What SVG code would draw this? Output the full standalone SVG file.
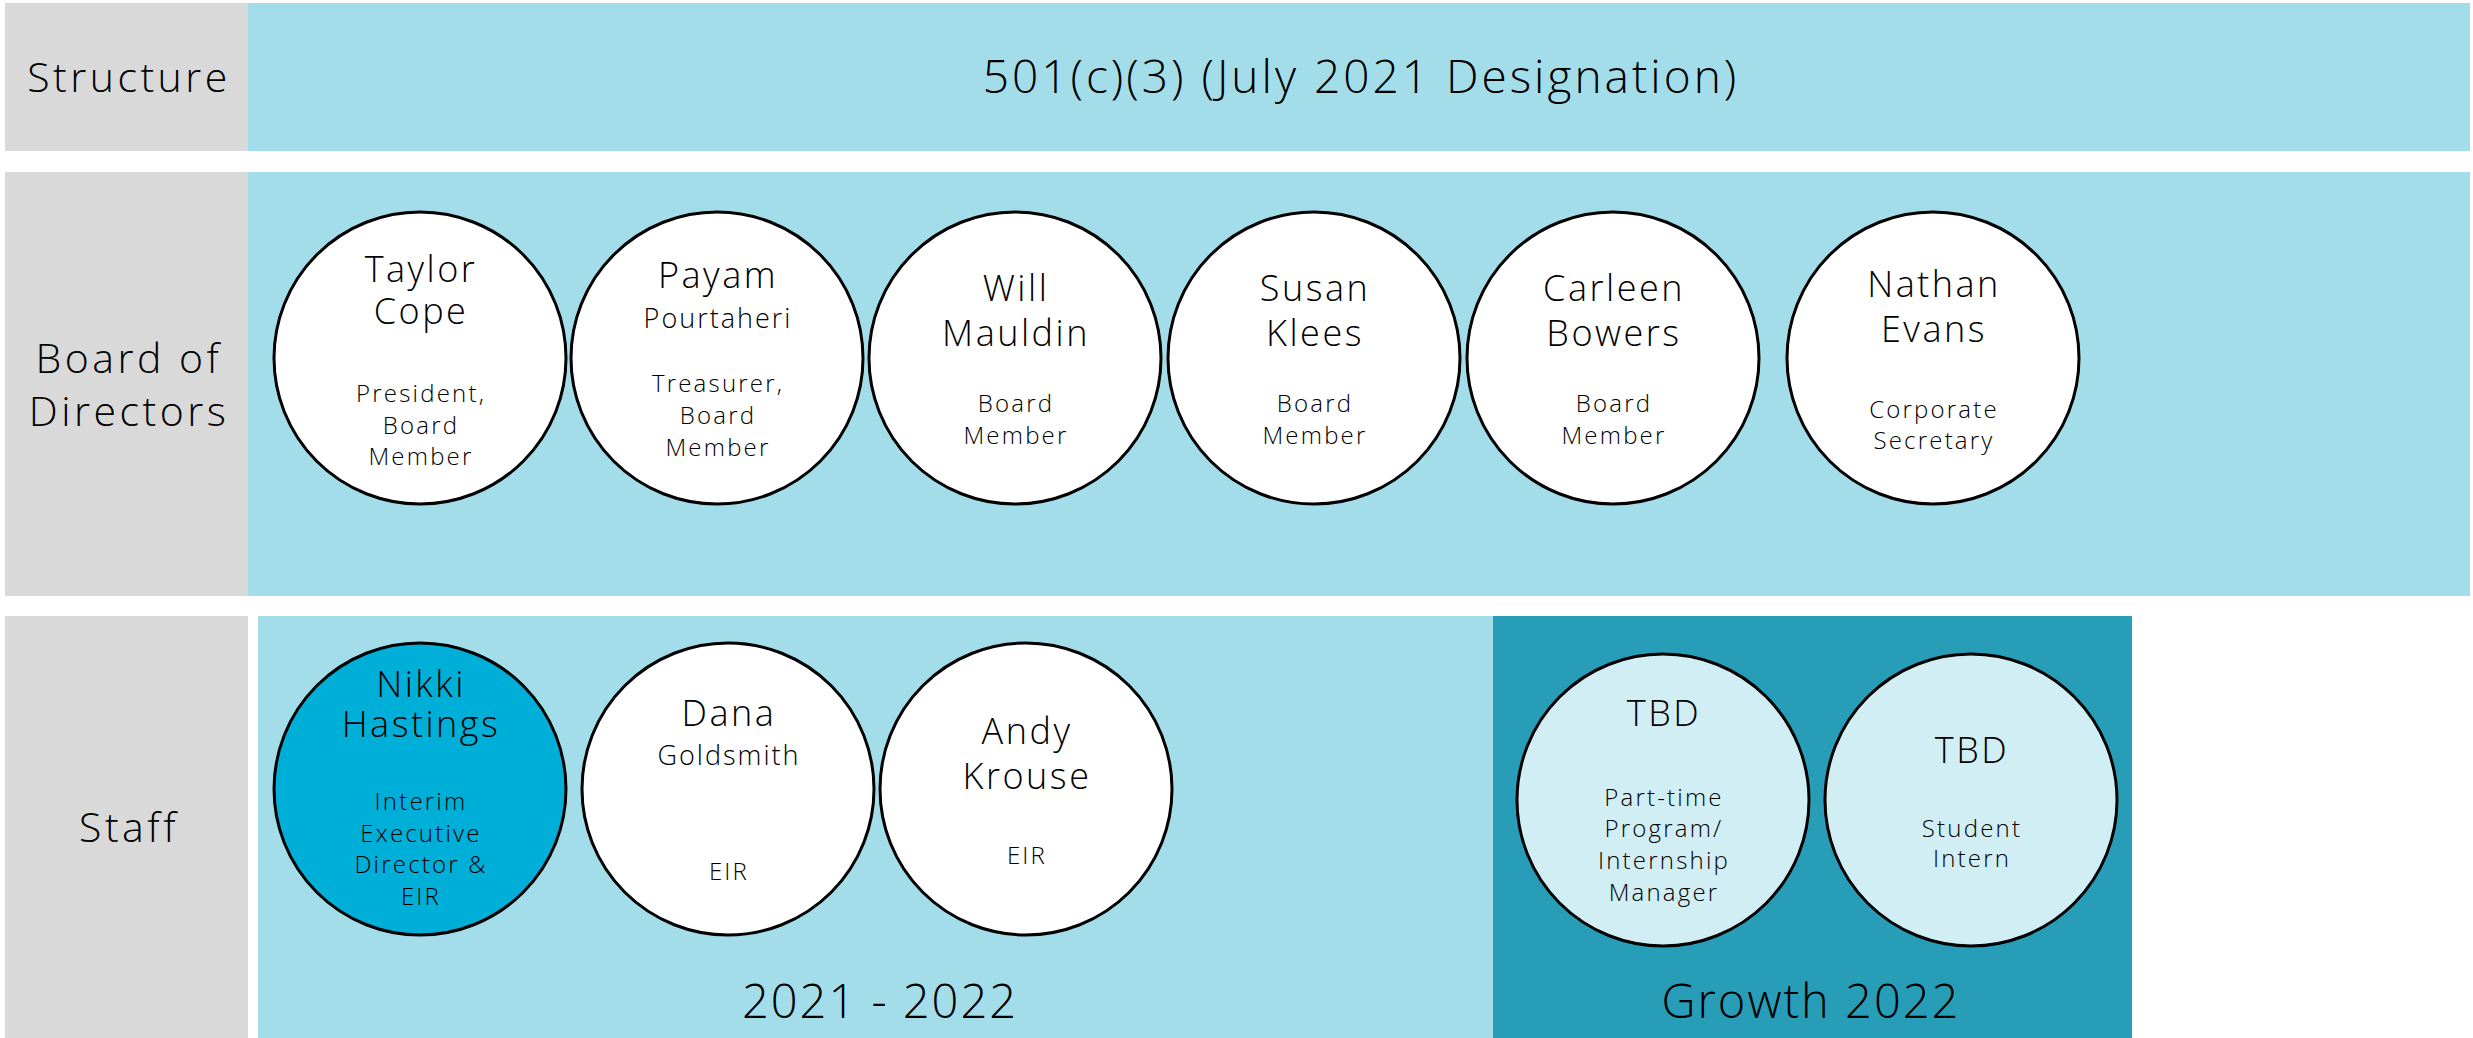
<svg xmlns="http://www.w3.org/2000/svg" width="2473" height="1038" viewBox="0 0 2473 1038">
<style>
text{font-family:"Open Sans","Noto Sans","Liberation Sans",sans-serif;font-weight:300;fill:#000;text-anchor:middle}
.lab{fill:#d9d9d9}
.band{fill:#a2dde9}
.dark{fill:#279db7}
.c{fill:#fff;stroke:#000;stroke-width:3}
.cb{fill:#00afd7;stroke:#000;stroke-width:3}
.cl{fill:#d2eef5;stroke:#000;stroke-width:3}
.h{font-size:41px;letter-spacing:3.5px}
.t{font-size:46px;letter-spacing:3px}
.y{font-size:47px;letter-spacing:2px}
.n{font-size:36px;letter-spacing:2.5px}
.n2{font-size:27px;letter-spacing:2px}
.r{font-size:24px;letter-spacing:2.2px}
</style>
<rect width="2473" height="1038" fill="#fff"/>
<g id="row-structure">
<rect class="lab" x="5" y="3" width="243" height="148"/>
<rect class="band" x="248" y="3" width="2222" height="148"/>
<text class="h" x="129" y="92">Structure</text>
<text class="t" x="1361" y="93">501(c)(3) (July 2021 Designation)</text>
</g>
<g id="row-board">
<rect class="lab" x="5" y="172" width="243" height="424"/>
<rect class="band" x="248" y="172" width="2222" height="424"/>
<text class="h" x="129" y="373">Board of</text>
<text class="h" x="129" y="426">Directors</text>
</g>
<g id="row-staff">
<rect class="lab" x="5" y="616" width="243" height="422"/>
<rect class="band" x="258" y="616" width="1235" height="422"/>
<rect class="dark" x="1493" y="616" width="639" height="422"/>
<text class="h" x="129" y="842">Staff</text>
<text class="y" x="880" y="1018">2021 - 2022</text>
<text class="y" x="1811" y="1018">Growth 2022</text>
</g>
<g id="taylor">
<circle class="c" cx="420" cy="358" r="146"/>
<text class="n" x="421" y="282">Taylor</text>
<text class="n" x="421" y="324">Cope</text>
<text class="r" x="421" y="402">President,</text>
<text class="r" x="421" y="434">Board</text>
<text class="r" x="421" y="465">Member</text>
</g>
<g id="payam">
<circle class="c" cx="717" cy="358" r="146"/>
<text class="n" x="718" y="288">Payam</text>
<text class="n2" x="718" y="328">Pourtaheri</text>
<text class="r" x="718" y="392">Treasurer,</text>
<text class="r" x="718" y="424">Board</text>
<text class="r" x="718" y="456">Member</text>
</g>
<g id="will">
<circle class="c" cx="1015" cy="358" r="146"/>
<text class="n" x="1016" y="301">Will</text>
<text class="n" x="1016" y="346">Mauldin</text>
<text class="r" x="1016" y="412">Board</text>
<text class="r" x="1016" y="444">Member</text>
</g>
<g id="susan">
<circle class="c" cx="1314" cy="358" r="146"/>
<text class="n" x="1315" y="301">Susan</text>
<text class="n" x="1315" y="346">Klees</text>
<text class="r" x="1315" y="412">Board</text>
<text class="r" x="1315" y="444">Member</text>
</g>
<g id="carleen">
<circle class="c" cx="1613" cy="358" r="146"/>
<text class="n" x="1614" y="301">Carleen</text>
<text class="n" x="1614" y="346">Bowers</text>
<text class="r" x="1614" y="412">Board</text>
<text class="r" x="1614" y="444">Member</text>
</g>
<g id="nathan">
<circle class="c" cx="1933" cy="358" r="146"/>
<text class="n" x="1934" y="297">Nathan</text>
<text class="n" x="1934" y="342">Evans</text>
<text class="r" x="1934" y="418">Corporate</text>
<text class="r" x="1934" y="449">Secretary</text>
</g>
<g id="nikki">
<circle class="cb" cx="420" cy="789" r="146"/>
<text class="n" x="421" y="697">Nikki</text>
<text class="n" x="421" y="737">Hastings</text>
<text class="r" x="421" y="810">Interim</text>
<text class="r" x="421" y="842">Executive</text>
<text class="r" x="421" y="873">Director &amp;</text>
<text class="r" x="421" y="905">EIR</text>
</g>
<g id="dana">
<circle class="c" cx="728" cy="789" r="146"/>
<text class="n" x="729" y="726">Dana</text>
<text class="n2" x="729" y="765">Goldsmith</text>
<text class="r" x="729" y="880">EIR</text>
</g>
<g id="andy">
<circle class="c" cx="1026" cy="789" r="146"/>
<text class="n" x="1027" y="744">Andy</text>
<text class="n" x="1027" y="789">Krouse</text>
<text class="r" x="1027" y="864">EIR</text>
</g>
<g id="tbd-manager">
<circle class="cl" cx="1663" cy="800" r="146"/>
<text class="n" x="1664" y="726">TBD</text>
<text class="r" x="1664" y="806">Part-time</text>
<text class="r" x="1664" y="837">Program/</text>
<text class="r" x="1664" y="869">Internship</text>
<text class="r" x="1664" y="901">Manager</text>
</g>
<g id="tbd-intern">
<circle class="cl" cx="1971" cy="800" r="146"/>
<text class="n" x="1972" y="763">TBD</text>
<text class="r" x="1972" y="837">Student</text>
<text class="r" x="1972" y="867">Intern</text>
</g>
<g id="connectors"></g>
</svg>
